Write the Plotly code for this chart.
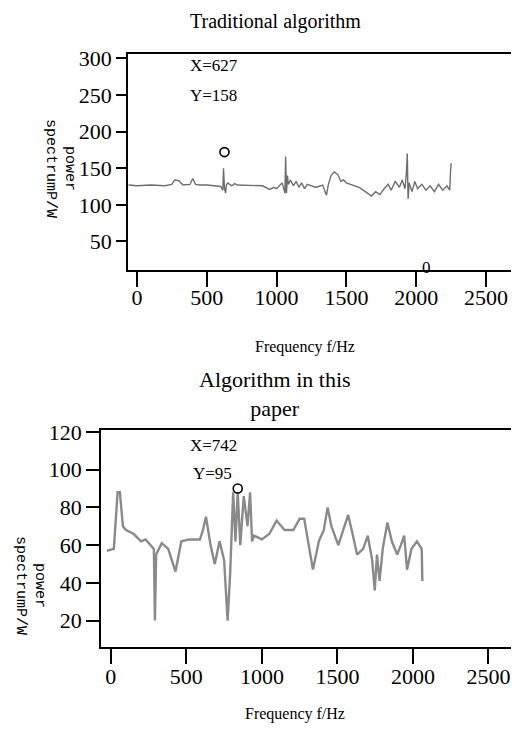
import plotly.graph_objects as go

# top panel: traditional algorithm
trad_freq = [-60, 0, 100, 200, 250, 270, 300, 330, 380, 400, 420, 450, 500, 560, 600, 615, 620, 627, 635,
             640, 650, 680, 700, 720, 757, 780, 850, 900, 950, 980, 1000, 1040, 1060, 1065, 1071, 1078, 1085,
             1100, 1120, 1140, 1160, 1180, 1200, 1220, 1250, 1280, 1300, 1330, 1357, 1370, 1390, 1414, 1440,
             1460, 1480, 1500, 1530, 1560, 1590, 1620, 1650, 1680, 1710, 1740, 1770, 1800, 1820, 1850, 1880,
             1900, 1920, 1930, 1936, 1942, 1950, 1970, 1990, 2010, 2040, 2070, 2100, 2130, 2160, 2190, 2220,
             2240, 2245, 2250]
trad_power = [127, 126, 127, 126, 128, 134, 133, 127, 128, 136, 128, 127, 127, 126, 125, 120, 150, 122, 116,
              127, 130, 126, 129, 127, 127, 126, 127, 126, 121, 124, 122, 130, 116, 166, 116, 140, 128,
              134, 126, 132, 124, 130, 122, 128, 126, 124, 125, 127, 113, 127, 140, 145, 141,
              132, 134, 130, 128, 126, 124, 120, 116, 112, 118, 114, 122, 128, 120, 132, 124,
              134, 122, 144, 170, 108, 130, 118, 132, 122, 128, 120, 126, 118, 128, 120, 126,
              120, 142, 157]

# bottom panel: algorithm in this paper
prop_freq = [-26, 20, 45, 60, 80, 100, 150, 200, 230, 266, 285, 292, 300, 337, 380, 428, 467, 520, 590,
             610, 630, 660, 688, 720, 750, 773, 790, 810, 825, 840, 857, 880, 905, 922, 935, 948, 1000,
             1050, 1097, 1150, 1208, 1250, 1280, 1310, 1338, 1377, 1410, 1435, 1460, 1506, 1540, 1571,
             1600, 1630, 1670, 1701, 1730, 1747, 1762, 1779, 1800, 1831, 1860, 1896, 1920, 1942, 1961,
             1990, 2026, 2045, 2058, 2062]
prop_power = [57, 58, 88, 88, 70, 68, 66, 62, 63, 60, 58, 20, 55, 61, 58, 46, 62, 63, 63,
              68, 75, 60, 50, 62, 52, 20, 45, 88, 62, 88, 60, 86, 70, 88, 62, 65, 63,
              66, 73, 68, 68, 74, 74, 60, 47, 62, 68, 80, 70, 60, 68, 76,
              66, 55, 58, 65, 52, 36, 55, 41, 58, 72, 62, 55, 60, 65, 47,
              58, 62, 60, 58, 41]

trad_peak = (627, 172)
prop_peak = (840, 90)

serif = "Liberation Serif"
mono = "Liberation Mono"

# page body has an 8px margin, so the figure is kept 16px smaller than the window
W, H, OFF = 503, 716, 8
def px(x): return min(1, max(0, (x - OFF) / W))
def py(y): return min(1, max(0, 1 - (y - OFF) / H))

fig = go.Figure()
fig.add_trace(go.Scatter(x=trad_freq, y=trad_power, mode='lines', line=dict(color='#6e6e6e', width=1.4),
                         xaxis='x', yaxis='y', showlegend=False))
fig.add_trace(go.Scatter(x=[trad_peak[0]], y=[trad_peak[1]], mode='markers',
                         marker=dict(symbol='circle-open', size=9, color='black', line=dict(width=1.6)),
                         xaxis='x', yaxis='y', showlegend=False))
fig.add_trace(go.Scatter(x=prop_freq, y=prop_power, mode='lines', line=dict(color='#8a8a8a', width=2.4),
                         xaxis='x2', yaxis='y2', showlegend=False))
fig.add_trace(go.Scatter(x=[prop_peak[0]], y=[prop_peak[1]], mode='markers',
                         marker=dict(symbol='circle-open', size=9, color='black', line=dict(width=1.6)),
                         xaxis='x2', yaxis='y2', showlegend=False))

tickfont = dict(family=serif, size=22, color='black')
common = dict(showgrid=False, zeroline=False, showline=True, linecolor='black', linewidth=1.5,
              tickwidth=2, tickcolor='black', tickfont=tickfont, automargin=False)

fig.update_layout(
    template='none',
    width=W, height=H,
    margin=dict(l=0, r=0, t=0, b=0, autoexpand=False),
    plot_bgcolor='white', paper_bgcolor='white',
    xaxis=dict(domain=[px(128), px(511)], range=[-64, 2679], tickvals=[0, 500, 1000, 1500, 2000, 2500],
               mirror=True, anchor='y', ticks='outside', ticklen=15, ticklabelstandoff=-8, **common),
    yaxis=dict(domain=[py(270), py(54)], range=[11, 306], tickvals=[50, 100, 150, 200, 250, 300],
               mirror=True, anchor='x', ticks='outside', ticklen=10, **common),
    xaxis2=dict(domain=[px(101), 1], range=[-65, 2649], tickvals=[0, 500, 1000, 1500, 2000, 2500],
                mirror=True, anchor='y2', ticks='outside', ticklen=15, ticklabelstandoff=-6, **common),
    yaxis2=dict(domain=[py(647), py(430)], range=[6, 121], tickvals=[20, 40, 60, 80, 100, 120],
                anchor='x2', ticks='outside', ticklen=13, **common),
)

ann = [
    dict(text="Traditional algorithm", x=px(275), y=py(22)),
    dict(text="Algorithm in this<br>paper", x=px(275), y=py(394), size=22),
    dict(text="Frequency f/Hz", x=px(305), y=py(347), size=16),
    dict(text="Frequency f/Hz", x=px(295), y=py(714), size=16),
]
ann = [dict(text=a['text'], x=a['x'], y=a['y'], xref='paper', yref='paper', xanchor='center',
            yanchor='middle', showarrow=False,
            font=dict(family=serif, size=a.get('size', 20), color='black')) for a in ann]

for yy, x0 in [(168, 60), (585, 30)]:
    ann.append(dict(text="power<br>spectrumP/W", x=px(x0), y=py(yy), xref='paper', yref='paper',
                    textangle=90, xanchor='center', yanchor='middle', showarrow=False,
                    font=dict(family=mono, size=15, color='black')))

for text, x, y, ax in [("X=627", 364, 290, ''), ("Y=158", 364, 250, ''), ("0", 2030, 14, ''),
                       ("X=742", 513, 113, '2'), ("Y=95", 530, 98, '2')]:
    ann.append(dict(text=text, x=x, y=y, xref='x' + ax, yref='y' + ax, xanchor='left', yanchor='middle',
                    showarrow=False, font=dict(family=serif, size=17, color='black')))

fig.update_layout(annotations=ann)

fig.write_html("out.html")
